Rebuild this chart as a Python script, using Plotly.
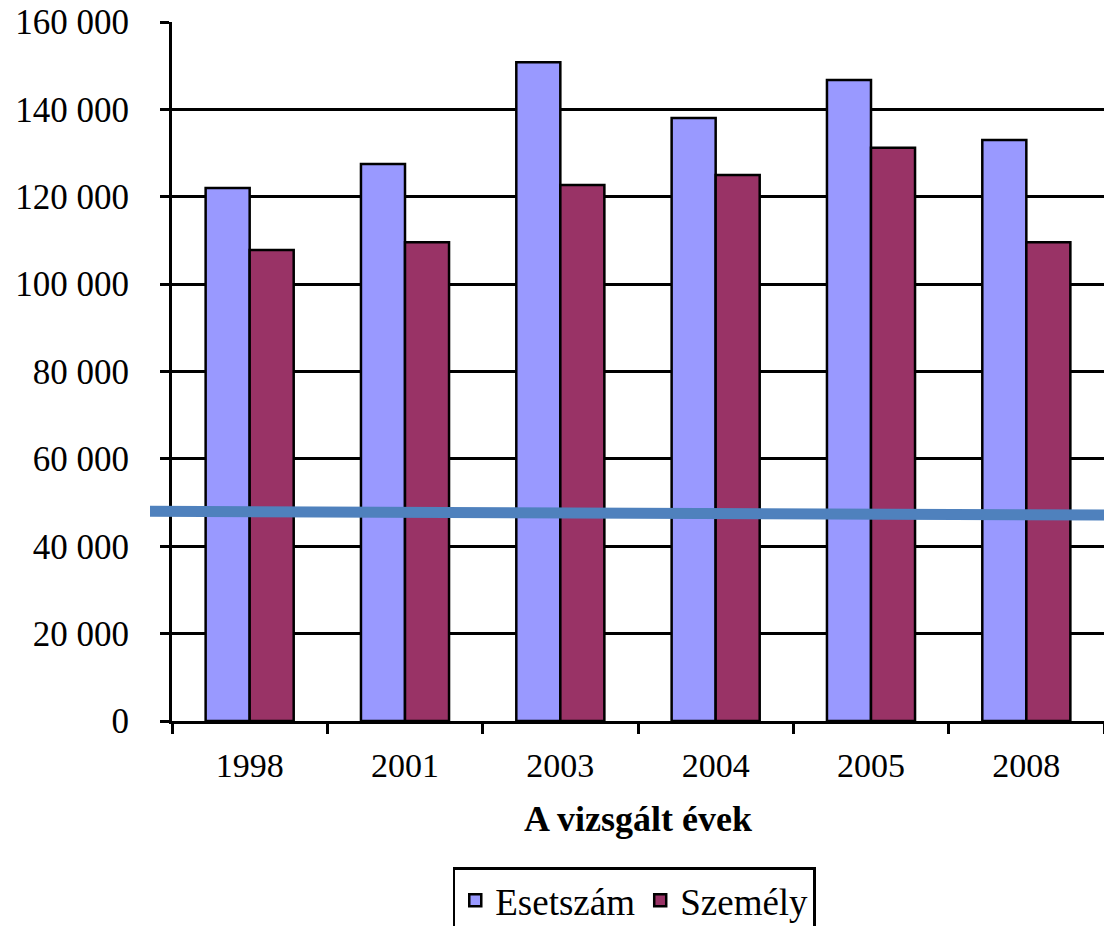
import plotly.graph_objects as go

years = ["1998", "2001", "2003", "2004", "2005", "2008"]
esetszam = [122000, 127500, 150800, 138000, 146700, 133000]
szemely = [107800, 109600, 122700, 125000, 131200, 109600]
y_ticks = [0, 20000, 40000, 60000, 80000, 100000, 120000, 140000, 160000]
y_tick_labels = ["0", "20 000", "40 000", "60 000", "80 000", "100 000", "120 000", "140 000", "160 000"]
overlay_line_y = [48000, 47150]

FONT = "'Liberation Serif', 'Times New Roman', Times, 'DejaVu Serif', serif"

fig = go.Figure()
fig.add_trace(go.Bar(x=years, y=esetszam, name="Esetszám",
                     marker=dict(color="#9999FF", line=dict(color="black", width=2.5))))
fig.add_trace(go.Bar(x=years, y=szemely, name="Személy",
                     marker=dict(color="#993366", line=dict(color="black", width=2.5))))

fig.add_shape(type="line", xref="paper", yref="y",
              x0=-0.0236, x1=1.0, y0=overlay_line_y[0], y1=overlay_line_y[1],
              line=dict(color="#4F81BD", width=11), layer="above")

fig.update_layout(
    width=1104, height=926,
    margin=dict(l=172, r=0, t=22, b=205, autoexpand=False),
    paper_bgcolor="white", plot_bgcolor="white",
    barmode="group", bargap=0.433, bargroupgap=0,
    font=dict(family=FONT, color="black", size=33),
    showlegend=True,
    legend=dict(orientation="h", x=0.496, xanchor="center", y=-0.209, yanchor="top",
                bordercolor="black", borderwidth=2.5,
                font=dict(family=FONT, size=37, color="black"),
                itemwidth=30, tracegroupgap=0),
    xaxis=dict(
        type="category", automargin=False,
        showline=True, linecolor="black", linewidth=3,
        ticks="outside", tickson="boundaries", ticklen=10, tickwidth=2.5, tickcolor="black",
        ticklabelstandoff=12,
        tickfont=dict(family=FONT, size=34, color="black"),
        showgrid=False,
        title=dict(text="<b>A vizsgált évek</b>", font=dict(family=FONT, size=36, color="black"),
                   standoff=24),
    ),
    yaxis=dict(
        range=[0, 160000], automargin=False,
        tickmode="array", tickvals=y_ticks, ticktext=y_tick_labels,
        showline=True, linecolor="black", linewidth=3,
        ticks="outside", ticklen=9, tickwidth=2.5, tickcolor="black",
        ticklabelstandoff=24,
        tickfont=dict(family=FONT, size=35, color="black"),
        showgrid=True, gridcolor="black", gridwidth=2.5,
        zeroline=False,
    ),
)

fig.write_html("out.html")
